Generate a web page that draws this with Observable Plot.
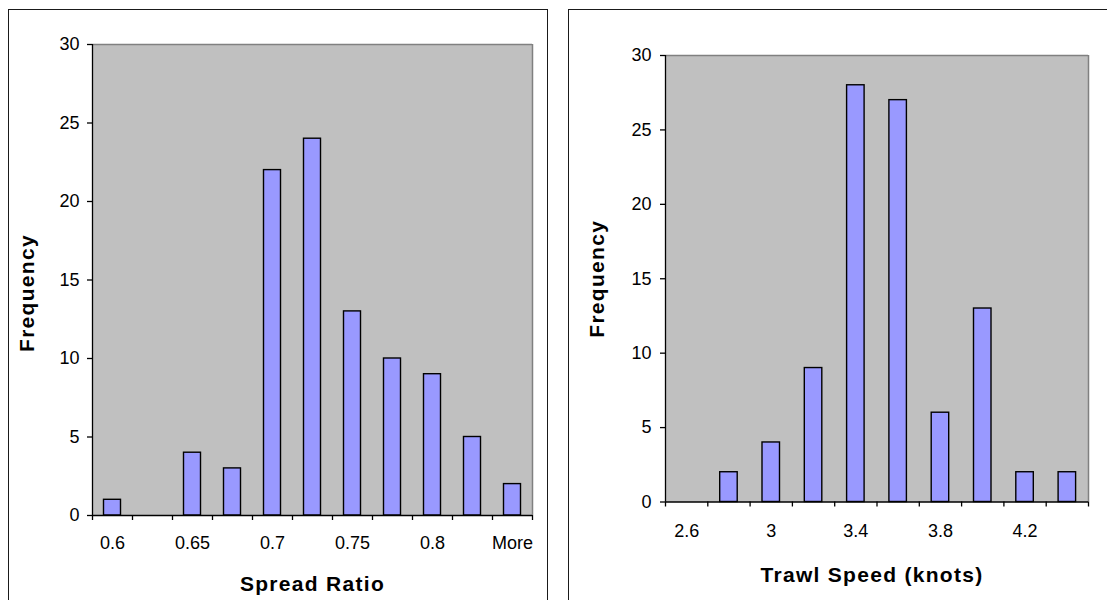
<!DOCTYPE html>
<html>
<head>
<meta charset="utf-8">
<script src="https://cdn.jsdelivr.net/npm/d3@7"></script>
<script src="https://cdn.jsdelivr.net/npm/@observablehq/plot@0.6"></script>
<style>
  html, body { margin: 0; padding: 0; background: #fff; width: 1107px; height: 600px; overflow: hidden; }
  #root { position: relative; width: 1107px; height: 600px; font-family: "Liberation Sans", Arial, sans-serif; }
  .chart { position: absolute; top: 0; }
  .panel { position: absolute; box-sizing: border-box; border: 1.5px solid #1a1a1a; pointer-events: none; }
</style>
</head>
<body>
<div id="root">
  <div class="chart" id="left" style="left:0px"></div>
  <div class="chart" id="right" style="left:560px"></div>
  <div class="panel" style="left:8px; top:9px; width:540px; height:620px;"></div>
  <div class="panel" style="left:568px; top:9px; width:600px; height:620px;"></div>
</div>
<script>
// ---- Data: Spread Ratio histogram ----
const spreadCats = ["0.6","0.625","0.65","0.675","0.7","0.725","0.75","0.775","0.8","0.825","More"];
const spreadFreq = [1, 0, 4, 3, 22, 24, 13, 10, 9, 5, 2];

// ---- Data: Trawl Speed histogram ----
const speedCats = ["2.6","2.8","3","3.2","3.4","3.6","3.8","4","4.2","4.4"];
const speedFreq = [0, 2, 4, 9, 28, 27, 6, 13, 2, 2];

// ---- Axis ticks ----
const yTicks = [0, 5, 10, 15, 20, 25, 30];
const labelEvery = 2;

const FONT = "Liberation Sans, Arial, sans-serif";

function histogram({cats, freq, width, height, margins, inset, xTitle, xTitleDx, xTitleDy, yTitleDx, yTitleDy, labelPad, yPad}) {
  const n = cats.length;
  const table = cats.map((c, i) => ({i, cat: c, f: freq[i]}));
  const labelIdx = d3.range(0, n, labelEvery);
  const svg = Plot.plot({
    width, height,
    marginLeft: margins[0], marginTop: margins[1], marginRight: margins[2], marginBottom: margins[3],
    style: {fontFamily: FONT, fontSize: "18px", color: "black", background: "transparent", overflow: "visible"},
    x: {type: "linear", domain: [0, n], axis: null},
    y: {domain: [0, 30], axis: null},
    marks: [
      Plot.frame({fill: "#C0C0C0", stroke: "none"}),
      Plot.ruleY([30], {stroke: "#808080", strokeWidth: 1.5}),
      Plot.ruleX([n], {stroke: "#808080", strokeWidth: 1.5}),
      Plot.rectY(table.filter(d => d.f > 0), {
        x1: d => d.i, x2: d => d.i + 1, y: "f",
        insetLeft: inset, insetRight: inset,
        fill: "#9999FF", stroke: "black", strokeWidth: 1.4
      }),
      Plot.ruleX([0], {stroke: "black", strokeWidth: 1.3}),
      Plot.ruleY([0], {stroke: "black", strokeWidth: 1.3}),
      Plot.axisX({ticks: d3.range(0, n + 1), tickSize: 5, tickFormat: () => "", label: null, strokeWidth: 1.3}),
      Plot.axisX({ticks: labelIdx.map(i => i + 0.5), tickSize: 0, tickPadding: labelPad, fontSize: 18,
        tickFormat: v => cats[Math.round(v - 0.5)], label: null}),
      Plot.axisY({ticks: yTicks, tickSize: 5, tickPadding: yPad, fontSize: 18, label: null, strokeWidth: 1.3}),
      Plot.text(["Frequency"], {frameAnchor: "left", rotate: -90, dx: yTitleDx, dy: yTitleDy,
        fontSize: 21, fontWeight: "bold"}),
      Plot.text([xTitle], {frameAnchor: "bottom", dx: xTitleDx, dy: xTitleDy,
        fontSize: 21, fontWeight: "bold"})
    ]
  });
  d3.select(svg).selectAll("text")
    .filter(function() { return this.textContent === "Frequency" || this.textContent === xTitle; })
    .attr("letter-spacing", "1.3px");
  return svg;
}

document.getElementById("left").appendChild(histogram({
  cats: spreadCats, freq: spreadFreq, width: 548, height: 600,
  margins: [92, 44, 16, 85], inset: 11.5,
  xTitle: "Spread Ratio", xTitleDx: 0, xTitleDy: 75,
  yTitleDx: -65, yTitleDy: 72, labelPad: 21, yPad: 8
}));

document.getElementById("right").appendChild(histogram({
  cats: speedCats, freq: speedFreq, width: 547, height: 600,
  margins: [105, 55, 19, 98.5], inset: 12.4,
  xTitle: "Trawl Speed (knots)", xTitleDx: -5, xTitleDy: 79.5,
  yTitleDx: -68, yTitleDy: 59, labelPad: 22, yPad: 9
}));
</script>
</body>
</html>
